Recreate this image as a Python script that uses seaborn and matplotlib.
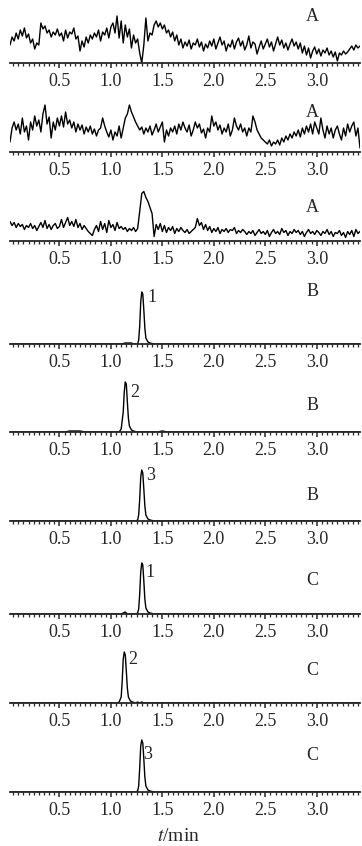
import numpy as np
import matplotlib
matplotlib.use("Agg")
from matplotlib import pyplot as plt
from matplotlib.ticker import MultipleLocator
import seaborn as sns

# sampling grid of the noisy traces (min)
noise_times = np.round(np.linspace(0.02, 3.42, 171), 2)

# signal heights (arbitrary units)
blank_a1 = [18, 26, 22, 30, 24, 33, 27, 35, 25, 29, 20, 24, 14, 20, 18,
            40, 34, 37, 30, 33, 26, 31, 28, 34, 27, 30, 22, 33, 25, 31,
            29, 35, 24, 27, 12, 22, 16, 26, 20, 28, 24, 30, 26, 33, 22,
            31, 28, 35, 25, 36, 40, 30, 47, 25, 42, 20, 38, 26, 34, 15,
            28, 20, 24, 10, 0, 18, 45, 22, 30, 28, 38, 42, 36, 40, 34,
            38, 30, 33, 26, 31, 22, 28, 18, 24, 15, 21, 17, 23, 14, 20,
            18, 24, 16, 21, 12, 19, 15, 22, 17, 24, 14, 20, 26, 18, 22,
            12, 19, 16, 23, 14, 21, 25, 17, 22, 13, 18, 27, 15, 21, 19,
            9, 16, 22, 14, 19, 24, 16, 21, 12, 19, 26, 18, 23, 15, 20,
            13, 19, 24, 17, 21, 14, 20, 10, 17, 8, 15, 5, 12, 16, 9,
            14, 7, 13, 10, 15, 8, 12, 6, 11, 2, 10, 8, 12, 9, 11,
            14, 17, 13, 18, 15, 17]

blank_a2 = [10, 24, 30, 22, 28, 18, 34, 20, 26, 12, 30, 22, 36, 26, 32,
            20, 38, 47, 28, 35, 14, 30, 22, 34, 26, 36, 25, 40, 28, 32,
            24, 30, 20, 28, 22, 27, 18, 25, 20, 26, 18, 23, 16, 22, 24,
            34, 26, 20, 15, 22, 12, 20, 16, 26, 14, 24, 34, 38, 47, 40,
            35, 30, 26, 22, 25, 18, 24, 20, 26, 17, 22, 28, 20, 25, 30,
            10, 22, 16, 24, 20, 26, 18, 28, 22, 30, 24, 20, 27, 16, 22,
            30, 24, 28, 19, 23, 14, 24, 20, 36, 26, 30, 22, 27, 18, 24,
            20, 28, 16, 22, 34, 26, 22, 28, 20, 24, 16, 24, 20, 36, 30,
            22, 18, 14, 12, 10, 8, 12, 6, 10, 8, 12, 7, 14, 10, 16,
            12, 18, 14, 20, 16, 22, 15, 24, 18, 26, 20, 28, 18, 30, 24,
            18, 34, 22, 14, 26, 18, 24, 14, 22, 26, 18, 12, 24, 16, 28,
            20, 26, 30, 16, 24, 4]

blank_a3 = [20, 16, 19, 14, 18, 15, 17, 12, 16, 14, 18, 13, 16, 11, 15,
            19, 14, 21, 13, 17, 12, 16, 18, 13, 15, 22, 14, 19, 24, 16,
            20, 15, 22, 14, 18, 12, 16, 13, 10, 8, 6, 12, 16, 10, 20,
            12, 18, 9, 21, 14, 17, 11, 19, 13, 15, 12, 14, 10, 13, 11,
            14, 10, 13, 30, 48, 50, 44, 40, 34, 28, 5, 17, 12, 18, 10,
            16, 9, 14, 11, 15, 8, 13, 10, 14, 11, 9, 12, 8, 10, 12,
            14, 23, 16, 19, 12, 17, 11, 15, 9, 13, 10, 14, 8, 12, 10,
            13, 9, 12, 11, 14, 8, 11, 9, 12, 10, 7, 10, 8, 11, 6,
            9, 12, 8, 10, 7, 11, 5, 9, 12, 8, 10, 7, 13, 9, 11,
            6, 10, 8, 12, 9, 11, 7, 10, 5, 9, 12, 8, 10, 7, 11,
            9, 6, 10, 8, 12, 7, 10, 5, 9, 8, 11, 6, 9, 4, 10,
            7, 11, 5, 12, 8, 10]

# spiked / sample traces: (time, height)
b1_t = [0.02, 1.10, 1.14, 1.16, 1.20, 1.22, 1.26, 1.27, 1.28, 1.29, 1.30,
        1.31, 1.32, 1.33, 1.34, 1.36, 1.38, 1.42, 3.42]
b1_y = [0, 0, 1, 1, 1, 0, 0, 4, 18, 42, 52, 50, 34, 16, 6, 2, 1, 0, 0]

b2_t = [0.02, 0.55, 0.60, 0.70, 0.75, 1.00, 1.08, 1.10, 1.12, 1.13, 1.14,
        1.15, 1.16, 1.17, 1.18, 1.20, 1.22, 1.25, 1.45, 1.50, 1.55, 1.70, 3.42]
b2_y = [0, 0, 1, 1, 0, 0, 0, 3, 20, 40, 50, 48, 30, 14, 6, 2, 1, 0, 0, 1, 0, 0, 0]

b3_t = [0.02, 1.24, 1.26, 1.27, 1.28, 1.29, 1.30, 1.31, 1.32, 1.33, 1.34,
        1.36, 1.38, 1.42, 3.42]
b3_y = [0, 0, 1, 6, 22, 44, 51, 48, 32, 15, 6, 2, 1, 0, 0]

c1_t = [0.02, 1.10, 1.12, 1.14, 1.16, 1.24, 1.26, 1.27, 1.28, 1.29, 1.30,
        1.31, 1.32, 1.33, 1.34, 1.36, 1.38, 1.42, 3.42]
c1_y = [0, 0, 1, 2, 0, 0, 1, 5, 20, 42, 51, 49, 33, 15, 6, 2, 1, 0, 0]

c2_t = [0.02, 1.06, 1.08, 1.10, 1.11, 1.12, 1.13, 1.14, 1.15, 1.16, 1.17,
        1.19, 1.21, 1.24, 1.26, 1.28, 1.30, 1.32, 1.36, 3.42]
c2_y = [0, 0, 1, 6, 22, 44, 51, 48, 32, 15, 6, 2, 1, 0, 1, 0, 1, 0, 0, 0]

c3_t = [0.02, 1.24, 1.26, 1.27, 1.28, 1.29, 1.30, 1.31, 1.32, 1.33, 1.34,
        1.36, 1.38, 1.42, 3.42]
c3_y = [0, 0, 1, 6, 24, 46, 52, 49, 33, 15, 6, 2, 1, 0, 0]

panel_letters = ["A", "A", "A", "B", "B", "B", "C", "C", "C"]
peak_labels = ["", "", "", "1", "2", "3", "1", "2", "3"]
tick_values = [0.5, 1.0, 1.5, 2.0, 2.5, 3.0]
tick_labels = ["0.5", "1.0", "1.5", "2.0", "2.5", "3.0"]

traces = [
    (noise_times, blank_a1),
    (noise_times, blank_a2),
    (noise_times, blank_a3),
    (b1_t, b1_y),
    (b2_t, b2_y),
    (b3_t, b3_y),
    (c1_t, c1_y),
    (c2_t, c2_y),
    (c3_t, c3_y),
]

# layout (pixels from the top of the figure)
W, H = 362, 846
axis_rows = [63, 152, 241.5, 344, 432, 521, 614, 703, 792]
letter_h = [47, 40, 34, 52, 27, 26, 34, 33, 37]
label_pos = [None, None, None, (1.40, 47), (1.235, 40), (1.39, 46),
             (1.38, 42), (1.215, 44), (1.36, 38)]
panel_h = 56

sns.set_style("ticks")
plt.rcParams["font.family"] = ["Liberation Serif", "DejaVu Serif"]
plt.rcParams["mathtext.fontset"] = "stix"

fig = plt.figure(figsize=(W / 100, H / 100), dpi=100)

for i, (t, y) in enumerate(traces):
    bottom = 1 - axis_rows[i] / H
    ax = fig.add_axes([10 / W, bottom, 350 / W, panel_h / H])
    sns.lineplot(x=t, y=y, ax=ax, color="black", linewidth=1.0,
                 estimator=None, sort=False)
    ax.set_xlim(0.02, 3.42)
    ax.set_ylim(0, panel_h)
    for side in ("left", "top", "right"):
        ax.spines[side].set_visible(False)
    ax.spines["bottom"].set_linewidth(1.3)
    ax.set_yticks([])
    ax.set_xticks(tick_values)
    ax.set_xticklabels(tick_labels, fontsize=13)
    ax.xaxis.set_minor_locator(MultipleLocator(0.05))
    ax.tick_params(axis="x", which="major", direction="out", length=3.5,
                   width=1.1, pad=3.5)
    ax.tick_params(axis="x", which="minor", direction="out", length=2.2,
                   width=0.9)
    ax.patch.set_alpha(0)
    ax.text(2.96, letter_h[i], panel_letters[i], fontsize=13,
            ha="center", va="center")
    if label_pos[i] is not None:
        ax.text(label_pos[i][0], label_pos[i][1], peak_labels[i],
                fontsize=13, ha="center", va="center")

fig.text(178 / W, 1 - 836 / H, "$t$/min", fontsize=14,
         ha="center", va="center")

fig.savefig("out.png", dpi=100)
